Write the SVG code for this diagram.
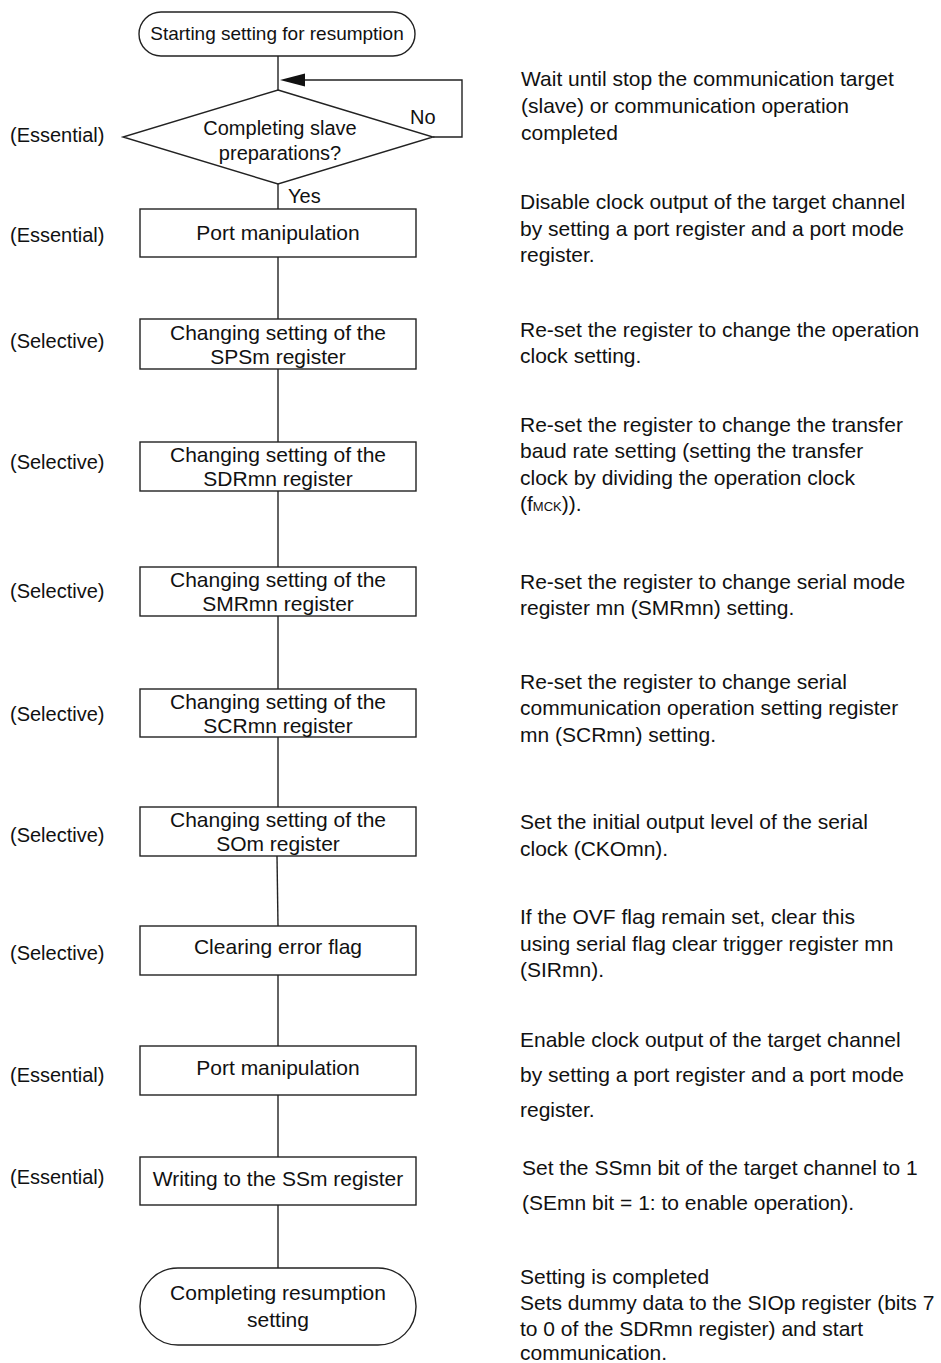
<svg xmlns="http://www.w3.org/2000/svg" width="941" height="1363" viewBox="0 0 941 1363">
<style>
text{font-family:"Liberation Sans",Arial,sans-serif;fill:#111}
.n{fill:#fff;stroke:#222;stroke-width:1.4}
.c{fill:none;stroke:#222;stroke-width:1.4}
.bt{font-size:21px;text-anchor:middle}
.lb{font-size:20px}
.rt{font-size:21px}
</style>
<rect width="941" height="1363" fill="#fff"/>
<g id="connectors">
<line class="c" x1="278" y1="56" x2="278" y2="90"/>
<path class="c" d="M433,137 H462 V80 H300"/>
<path d="M280,80 L305,73.5 L305,86.5 Z" fill="#111"/>
<line class="c" x1="278" y1="184" x2="278" y2="209"/>
<line class="c" x1="278" y1="257" x2="278" y2="319"/>
<line class="c" x1="278" y1="369" x2="278" y2="442"/>
<line class="c" x1="278" y1="491" x2="278" y2="567"/>
<line class="c" x1="278" y1="616" x2="278" y2="689"/>
<line class="c" x1="278" y1="737" x2="278" y2="807"/>
<line class="c" x1="277" y1="856" x2="278" y2="926"/>
<line class="c" x1="278" y1="975" x2="278" y2="1046"/>
<line class="c" x1="278" y1="1095" x2="278" y2="1157"/>
<line class="c" x1="278" y1="1205" x2="278" y2="1268"/>
<text class="lb" x="288" y="203">Yes</text>
<text class="lb" x="410" y="124">No</text>
</g>
<g id="start">
<rect class="n" x="139" y="12" width="276" height="44" rx="22" ry="22"/>
<text x="277" y="40" style="font-size:19px;text-anchor:middle">Starting setting for resumption</text>
</g>
<g id="decision">
<polygon class="n" points="278,90 433,137 278,184 123,137"/>
<text class="bt" x="280" y="135" style="font-size:20px">Completing slave</text>
<text class="bt" x="280" y="160" style="font-size:20px">preparations?</text>
<text class="lb" x="10" y="142">(Essential)</text>
</g>
<g id="port1">
<rect class="n" x="140" y="209" width="276" height="48"/>
<text class="bt" x="278" y="240">Port manipulation</text>
<text class="lb" x="10" y="242">(Essential)</text>
</g>
<g id="sps">
<rect class="n" x="140" y="319" width="276" height="50"/>
<text class="bt" x="278" y="340">Changing setting of the</text>
<text class="bt" x="278" y="364">SPSm register</text>
<text class="lb" x="10" y="348">(Selective)</text>
</g>
<g id="sdr">
<rect class="n" x="140" y="442" width="276" height="49"/>
<text class="bt" x="278" y="462">Changing setting of the</text>
<text class="bt" x="278" y="486">SDRmn register</text>
<text class="lb" x="10" y="469">(Selective)</text>
</g>
<g id="smr">
<rect class="n" x="140" y="567" width="276" height="49"/>
<text class="bt" x="278" y="587">Changing setting of the</text>
<text class="bt" x="278" y="611">SMRmn register</text>
<text class="lb" x="10" y="598">(Selective)</text>
</g>
<g id="scr">
<rect class="n" x="140" y="689" width="276" height="48"/>
<text class="bt" x="278" y="709">Changing setting of the</text>
<text class="bt" x="278" y="733">SCRmn register</text>
<text class="lb" x="10" y="721">(Selective)</text>
</g>
<g id="som">
<rect class="n" x="140" y="807" width="276" height="49"/>
<text class="bt" x="278" y="827">Changing setting of the</text>
<text class="bt" x="278" y="851">SOm register</text>
<text class="lb" x="10" y="842">(Selective)</text>
</g>
<g id="clrerr">
<rect class="n" x="140" y="926" width="276" height="49"/>
<text class="bt" x="278" y="954">Clearing error flag</text>
<text class="lb" x="10" y="960">(Selective)</text>
</g>
<g id="port2">
<rect class="n" x="140" y="1046" width="276" height="49"/>
<text class="bt" x="278" y="1075">Port manipulation</text>
<text class="lb" x="10" y="1082">(Essential)</text>
</g>
<g id="ssm">
<rect class="n" x="140" y="1157" width="276" height="48"/>
<text class="bt" x="278" y="1186">Writing to the SSm register</text>
<text class="lb" x="10" y="1184">(Essential)</text>
</g>
<g id="end">
<rect class="n" x="140" y="1268" width="276" height="77" rx="38" ry="38"/>
<text class="bt" x="278" y="1300">Completing resumption</text>
<text class="bt" x="278" y="1327">setting</text>
</g>
<g id="notes">
<text class="rt" x="521" y="86">Wait until stop the communication target</text>
<text class="rt" x="521" y="113">(slave) or communication operation</text>
<text class="rt" x="521" y="140">completed</text>
<text class="rt" x="520" y="209">Disable clock output of the target channel</text>
<text class="rt" x="520" y="236">by setting a port register and a port mode</text>
<text class="rt" x="520" y="262">register.</text>
<text class="rt" x="520" y="337">Re-set the register to change the operation</text>
<text class="rt" x="520" y="363">clock setting.</text>
<text class="rt" x="520" y="432">Re-set the register to change the transfer</text>
<text class="rt" x="520" y="458">baud rate setting (setting the transfer</text>
<text class="rt" x="520" y="485">clock by dividing the operation clock</text>
<text class="rt" x="520" y="511">(f<tspan style="font-size:13px">MCK</tspan>)).</text>
<text class="rt" x="520" y="589">Re-set the register to change serial mode</text>
<text class="rt" x="520" y="615">register mn (SMRmn) setting.</text>
<text class="rt" x="520" y="689">Re-set the register to change serial</text>
<text class="rt" x="520" y="715">communication operation setting register</text>
<text class="rt" x="520" y="742">mn (SCRmn) setting.</text>
<text class="rt" x="520" y="829">Set the initial output level of the serial</text>
<text class="rt" x="520" y="856">clock (CKOmn).</text>
<text class="rt" x="520" y="924">If the OVF flag remain set, clear this</text>
<text class="rt" x="520" y="951">using serial flag clear trigger register mn</text>
<text class="rt" x="520" y="977">(SIRmn).</text>
<text class="rt" x="520" y="1047">Enable clock output of the target channel</text>
<text class="rt" x="520" y="1082">by setting a port register and a port mode</text>
<text class="rt" x="520" y="1117">register.</text>
<text class="rt" x="522" y="1175">Set the SSmn bit of the target channel to 1</text>
<text class="rt" x="522" y="1210">(SEmn bit = 1: to enable operation).</text>
<text class="rt" x="520" y="1284">Setting is completed</text>
<text class="rt" x="520" y="1310">Sets dummy data to the SIOp register (bits 7</text>
<text class="rt" x="520" y="1336">to 0 of the SDRmn register) and start</text>
<text class="rt" x="520" y="1360">communication.</text>
</g>
</svg>
